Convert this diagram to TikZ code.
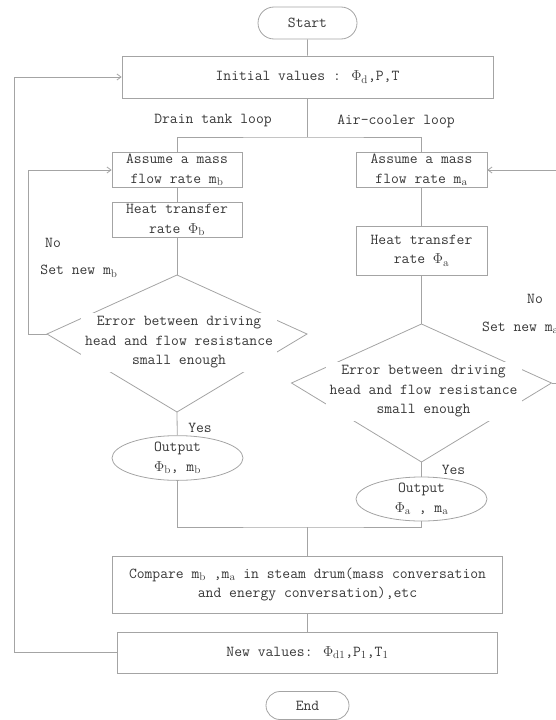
\documentclass[tikz,border=0pt]{standalone}
\usetikzlibrary{arrows.meta,shapes.geometric,shapes.misc}
\definecolor{ln}{HTML}{A4A4A4}
\definecolor{tx}{HTML}{383838}
\begin{document}
\begin{tikzpicture}[x=1pt,y=-1pt,
  every node/.style={font=\fontsize{15.2}{19.5}\selectfont\ttfamily, text=tx, inner sep=0pt},
  line/.style={draw=ln, line width=0.8pt},
  arr/.style={line, -{Straight Barb[length=4pt,width=6pt]}},
  box/.style={line, rectangle, align=center},
  term/.style={line, rounded rectangle, align=center},
  oval/.style={line, ellipse, align=center},
  dtext/.style={fill=white, align=center, minimum width=196pt, minimum height=59pt},
  lab/.style={}]
\useasboundingbox (0,0) rectangle (555,720);
% terminals and boxes
\node[term, minimum width=99pt, minimum height=32pt] (start) at (307.5,23) {Start};
\node[box, minimum width=371pt, minimum height=42pt] (init) at (307.5,77) {Initial values : $\Phi_{\mathrm{d}}$,P,T};
\node[lab] (ldrain) at (213,121) {Drain tank loop};
\node[lab] (lair) at (396,121) {Air-cooler loop};
\coordinate (split) at (307.5,137);
\node[box, minimum width=130pt, minimum height=35pt] (b1) at (177,170) {Assume a mass\\flow rate m$_{\mathrm b}$};
\node[box, minimum width=130pt, minimum height=35pt] (b2) at (177,220) {Heat transfer\\rate $\Phi_{\mathrm b}$};
\node[box, minimum width=131pt, minimum height=35pt] (a1) at (421.5,170) {Assume a mass\\flow rate m$_{\mathrm a}$};
\node[box, minimum width=131pt, minimum height=49pt] (a2) at (421.5,250.5) {Heat transfer\\rate $\Phi_{\mathrm a}$};
% diamond b
\coordinate (dbT) at (177,275);
\coordinate (dbL) at (47,334);
\coordinate (dbR) at (307,334);
\coordinate (dbB) at (177,412);
\draw[line] (dbT) -- (dbR) -- (dbB) -- (dbL) -- cycle;
\node[dtext] (db) at (179,342.5) {Error between driving\\head and flow resistance\\small enough};
% diamond a
\coordinate (daT) at (421.5,324);
\coordinate (daL) at (291.5,383);
\coordinate (daR) at (551.5,383);
\coordinate (daB) at (421.5,462);
\draw[line] (daT) -- (daR) -- (daB) -- (daL) -- cycle;
\node[dtext] (da) at (423.5,391.5) {Error between driving\\head and flow resistance\\small enough};
% outputs
\node[oval, minimum width=131pt, minimum height=38pt] (ob) at (177.5,458) {Output\\$\Phi_{\mathrm b}$, m$_{\mathrm b}$};
\node[oval, minimum width=131pt, minimum height=40pt] (oa) at (421.5,499) {Output\\$\Phi_{\mathrm a}$ , m$_{\mathrm a}$};
% labels
\node[lab] (nob) at (53,243) {No};
\node[lab] (setb) at (79,271) {Set new m$_{\mathrm b}$};
\node[lab] (yesb) at (200,428) {Yes};
\node[lab] (noa) at (535,299) {No};
\node[lab, anchor=west] (seta) at (482,328) {Set new m$_{\mathrm a}$};
\node[lab] (yesa) at (453.5,470) {Yes};
% bottom
\coordinate (join) at (307.5,527);
\node[box, minimum width=390pt, minimum height=57pt] (cmp) at (307.5,584.5) {Compare m$_{\mathrm b}$ ,m$_{\mathrm a}$ in steam drum(mass conversation\\and energy conversation),etc};
\node[box, minimum width=380pt, minimum height=41pt] (newv) at (307.5,652.5) {New values: $\Phi_{\mathrm{d1}}$,P$_{1}$,T$_{1}$};
\node[term, minimum width=83pt, minimum height=28pt] (end) at (307.5,705.5) {End};
% helper coordinates
\coordinate (lb) at (28,334);
\coordinate (ra) at (575,383);
\coordinate (fb) at (14,652.5);
% connectors
\draw[line] (start) -- (init);
\draw[line] (init.south) -- (split);
\draw[line] (b1.north) |- (split) -| (a1.north);
\draw[line] (b1) -- (b2);
\draw[line] (b2) -- (dbT);
\draw[line] (dbB) -- (ob);
\draw[arr] (dbL) -- (lb) |- (b1.west);
\draw[line] (a1) -- (a2);
\draw[line] (a2) -- (daT);
\draw[line] (daB) -- (oa);
\draw[arr] (daR) -- (ra) |- (a1.east);
\draw[line] (ob.south) |- (join) -| (oa.south);
\draw[line] (join) -- (cmp);
\draw[line] (cmp) -- (newv);
\draw[arr] (newv.west) -- (fb) |- (init.west);
\end{tikzpicture}
\end{document}
